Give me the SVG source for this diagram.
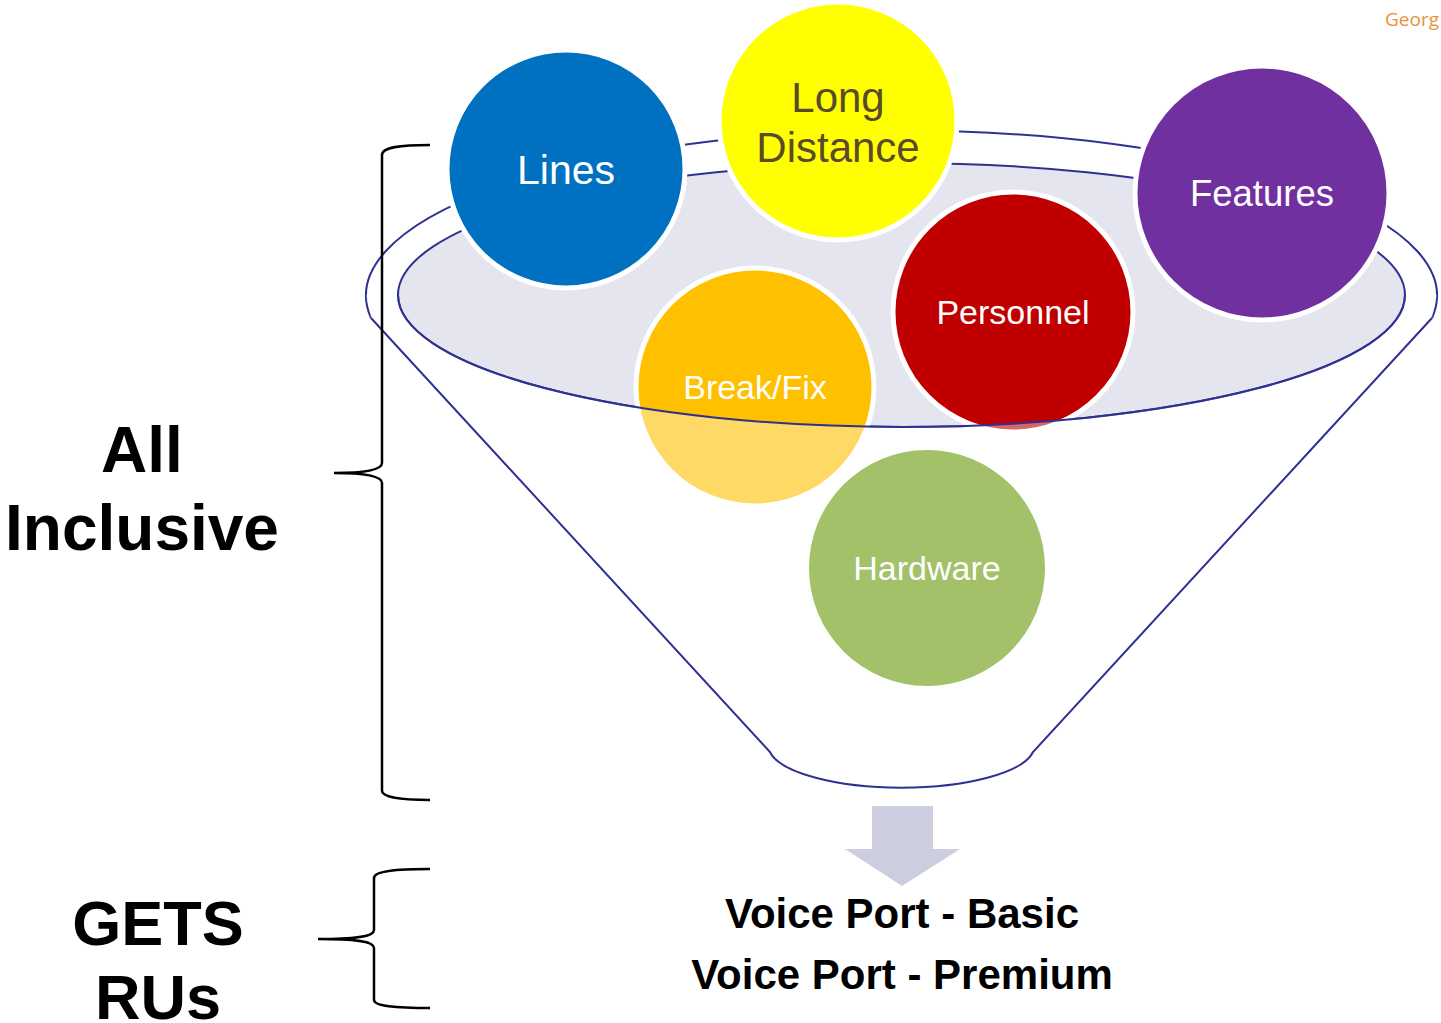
<svg xmlns="http://www.w3.org/2000/svg" width="1441" height="1023" viewBox="0 0 1441 1023">
<style>
.rim{fill:none;stroke:#2E3192;stroke-width:2}
.node{stroke:#FFFFFF;stroke-width:5}
.lbl{font-family:"Liberation Sans",Arial,sans-serif;text-anchor:middle;fill:#FFFFFF}
.big{font-family:"Liberation Sans",Arial,sans-serif;font-weight:bold;text-anchor:middle;fill:#000000}
.brace{fill:none;stroke:#000000;stroke-width:2.5}
</style>
<rect width="1441" height="1023" fill="#FFFFFF"/>
<text x="1385" y="26" font-family="'Open Sans','Noto Sans',sans-serif" font-size="19" fill="#E8923A">Georg</text>

<g id="funnel-back">
  <path class="rim" d="M371,318 A535.5,165 0 1 1 1432,318"/>
  <ellipse cx="901.5" cy="295" rx="503.5" ry="132" fill="#E4E5EE" stroke="#2E3192" stroke-width="2"/>
</g>

<g id="node-lines">
  <circle class="node" cx="566" cy="169" r="119" fill="#0070C0"/>
  <text class="lbl" x="566" y="184" font-size="41">Lines</text>
</g>
<g id="node-long-distance">
  <circle class="node" cx="838" cy="121" r="119" fill="#FFFF00"/>
  <text class="lbl" x="838" y="112" font-size="42" style="fill:#594A2A">Long</text>
  <text class="lbl" x="838" y="162" font-size="42" style="fill:#594A2A">Distance</text>
</g>
<g id="node-features">
  <circle class="node" cx="1262" cy="193" r="127" fill="#7030A0"/>
  <text class="lbl" x="1262" y="206" font-size="36.5">Features</text>
</g>
<g id="node-personnel">
  <circle class="node" cx="1013" cy="312" r="120" fill="#C00000"/>
  <text class="lbl" x="1013" y="324" font-size="34">Personnel</text>
</g>
<g id="node-breakfix">
  <circle class="node" cx="755" cy="387" r="119" fill="#FFC000"/>
  <text class="lbl" x="755" y="399" font-size="34">Break/Fix</text>
</g>

<g id="funnel-front">
  <path d="M398,295 A503.5,132 0 0 0 1405,295 L1437,295 L1432,318 L1033,752 A133,42 0 0 1 770,752 L371,318 L366,295 Z" fill="#FFFFFF" fill-opacity="0.4"/>
  <path class="rim" d="M398,295 A503.5,132 0 0 0 1405,295"/>
  <path class="rim" d="M1432,318 L1033,752 A133,42 0 0 1 770,752 L371,318"/>
</g>

<g id="node-hardware">
  <circle cx="927" cy="568" r="118" fill="#A3C168"/>
  <text class="lbl" x="927" y="580" font-size="34">Hardware</text>
</g>

<g id="connectors">
  <path d="M872,806 L933,806 L933,849 L960,849 L902,886 L845,849 L872,849 Z" fill="#CDCDE0"/>
</g>

<g id="braces">
  <path class="brace" d="M430,145 C400,145 382,147 382,155 L382,463 C382,469 370,473 334,473 C370,473 382,477 382,483 L382,791 C382,797 400,800 430,800"/>
  <path class="brace" d="M430,869 C395,869 374,871 374,878 L374,930 C374,936 360,939 318,939 C360,939 374,942 374,948 L374,1000 C374,1006 395,1008 430,1008"/>
</g>

<g id="labels">
  <text class="big" x="142" y="472" font-size="64">All</text>
  <text class="big" x="142" y="550" font-size="64">Inclusive</text>
  <text class="big" x="158" y="945" font-size="63">GETS</text>
  <text class="big" x="158" y="1019" font-size="63">RUs</text>
  <text class="big" x="902" y="928" font-size="42">Voice Port - Basic</text>
  <text class="big" x="902" y="989" font-size="42">Voice Port - Premium</text>
</g>
</svg>
